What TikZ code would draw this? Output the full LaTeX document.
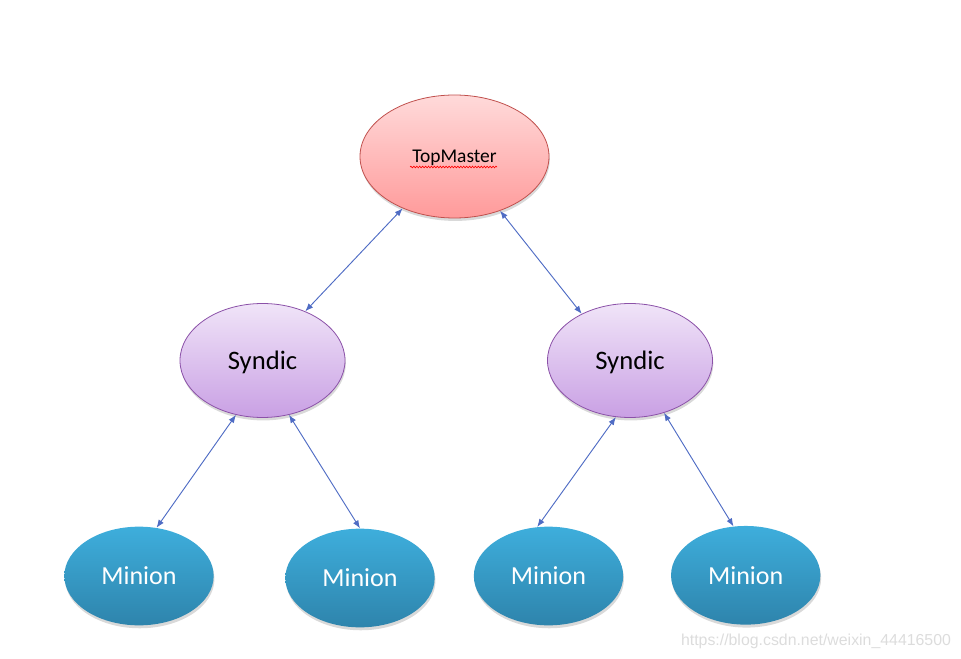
\documentclass[tikz,border=0pt]{standalone}
\usepackage{fontspec}
\setmainfont{Carlito}
\newfontfamily\wmfont{Liberation Sans}
\usetikzlibrary{shapes.geometric,arrows.meta,shadows,decorations.pathmorphing}
\definecolor{mastertop}{HTML}{FFDADA}
\definecolor{masterbot}{HTML}{FF9A9A}
\definecolor{masterline}{HTML}{C0504D}
\definecolor{syntop}{HTML}{F0E4F8}
\definecolor{synbot}{HTML}{C9A0E4}
\definecolor{synline}{HTML}{8B51A8}
\definecolor{mintop}{HTML}{3EAEDC}
\definecolor{minbot}{HTML}{2E84AC}
\definecolor{linkblue}{HTML}{4F6CC4}
\definecolor{wmgray}{HTML}{DCDCDC}
\begin{document}
\begin{tikzpicture}[x=0.75pt,y=-0.75pt,
    shade/.style={drop shadow={shadow xshift=0.6pt,shadow yshift=-2.2pt,opacity=0.3}},
    master/.style={ellipse,draw=masterline,line width=0.6pt,top color=mastertop,bottom color=masterbot,
        minimum width=141.75pt,minimum height=92.25pt,inner sep=0pt,text depth=0pt,font=\fontsize{14.6}{16}\selectfont,shade},
    syndic/.style={ellipse,draw=synline,line width=0.6pt,top color=syntop,bottom color=synbot,
        minimum width=123.75pt,minimum height=85.5pt,inner sep=0pt,text depth=0pt,font=\fontsize{20}{22}\selectfont,shade},
    minion/.style={ellipse,top color=mintop,bottom color=minbot,text=white,
        minimum width=112pt,minimum height=74pt,inner sep=0pt,font=\fontsize{19.5}{22}\selectfont,shade},
    link/.style={{Latex[length=6pt,width=4.6pt]}-{Latex[length=6pt,width=4.6pt]},draw=linkblue,line width=0.7pt}]
    \useasboundingbox (0,0) rectangle (961,659);

    % Master
    \node[master] (top) at (454.5,156.5) {TopMaster};
    \draw[red,line width=0.5pt,decorate,decoration={snake,amplitude=0.6pt,segment length=2.2pt}]
        (410,167) -- (497,167);

    % Syndics
    \node[syndic] (syn1) at (262.5,360.5) {Syndic};
    \node[syndic] (syn2) at (630,360.5) {Syndic};

    % Minions
    \node[minion] (min1) at (139,576) {Minion};
    \node[minion] (min2) at (360,578) {Minion};
    \node[minion] (min3) at (548.5,576) {Minion};
    \node[minion] (min4) at (745.7,575.3) {Minion};

    \draw[link] (top.225) -- (syn1.49);
    \draw[link] (top.310) -- (syn2.136);
    \draw[link] (syn1.244) -- (min1.70);
    \draw[link] (syn1.296) -- (min2.90);
    \draw[link] (syn2.256) -- (min3.103);
    \draw[link] (syn2.303) -- (min4.104);

    \node[text=wmgray,font=\wmfont\fontsize{11.9}{13}\selectfont] (wm) at (816,641.5) {https://blog.csdn.net/weixin\_44416500};
\end{tikzpicture}
\end{document}
